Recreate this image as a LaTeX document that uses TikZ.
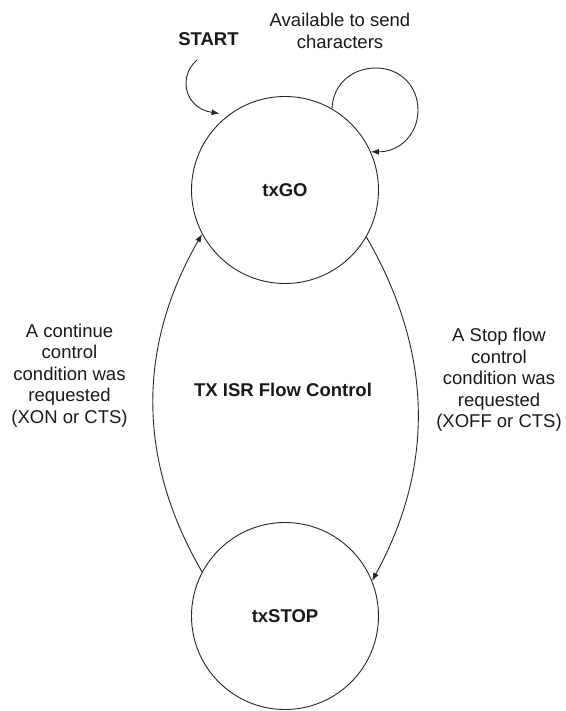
\documentclass[tikz,border=0pt]{standalone}
\usepackage{fontspec}
\setmainfont{Liberation Sans}
\usetikzlibrary{arrows.meta}
\begin{document}
\begin{tikzpicture}[x=1pt,y=-1pt,
  state/.style={draw=black!85, line width=0.9pt, circle, minimum size=187pt, inner sep=0pt,
    text=black!90, font=\bfseries\fontsize{18.5}{21.5}\selectfont},
  lbl/.style={align=center, inner sep=0pt, text=black!90, font=\fontsize{18.5}{21.5}\selectfont},
  blbl/.style={inner sep=0pt, text=black!90, font=\bfseries\fontsize{18.5}{21.5}\selectfont},
  conn/.style={line width=0.9pt, draw=black!85, -{Latex[length=8pt,width=6pt]}},
]
\useasboundingbox (0,0) rectangle (565,711);
\node[state] (go) at (285,190) {txGO};
\node[state] (stop) at (285,616) {txSTOP};

\node[blbl] (start) at (208.5,39) {START};
\node[lbl] (avail) at (340,30.7) {Available to send\\characters};
\node[lbl] (lcond) at (69.5,375.5) {A continue\\control\\condition was\\requested\\(XON or CTS)};
\node[lbl] (rcond) at (499,380) {A Stop flow\\control\\condition was\\requested\\(XOFF or CTS)};
\node[blbl] (title) at (283,390) {TX ISR Flow Control};

\coordinate (s0) at (197,60);
\draw[conn, shorten >=9pt] (s0) .. controls (178,76) and (184,108) .. (go.127);

\draw[conn] (go.60) .. controls (333,84) and (352,68) .. (376,68)
  .. controls (400,68) and (418,86) .. (418,110)
  .. controls (418,134) and (400,152) .. (go.24);

\draw[conn] (stop.152) .. controls (137,460) and (137,347) .. (go.208);
\draw[conn] (go.330) .. controls (433,352) and (435,466) .. (stop.22);
\end{tikzpicture}
\end{document}
